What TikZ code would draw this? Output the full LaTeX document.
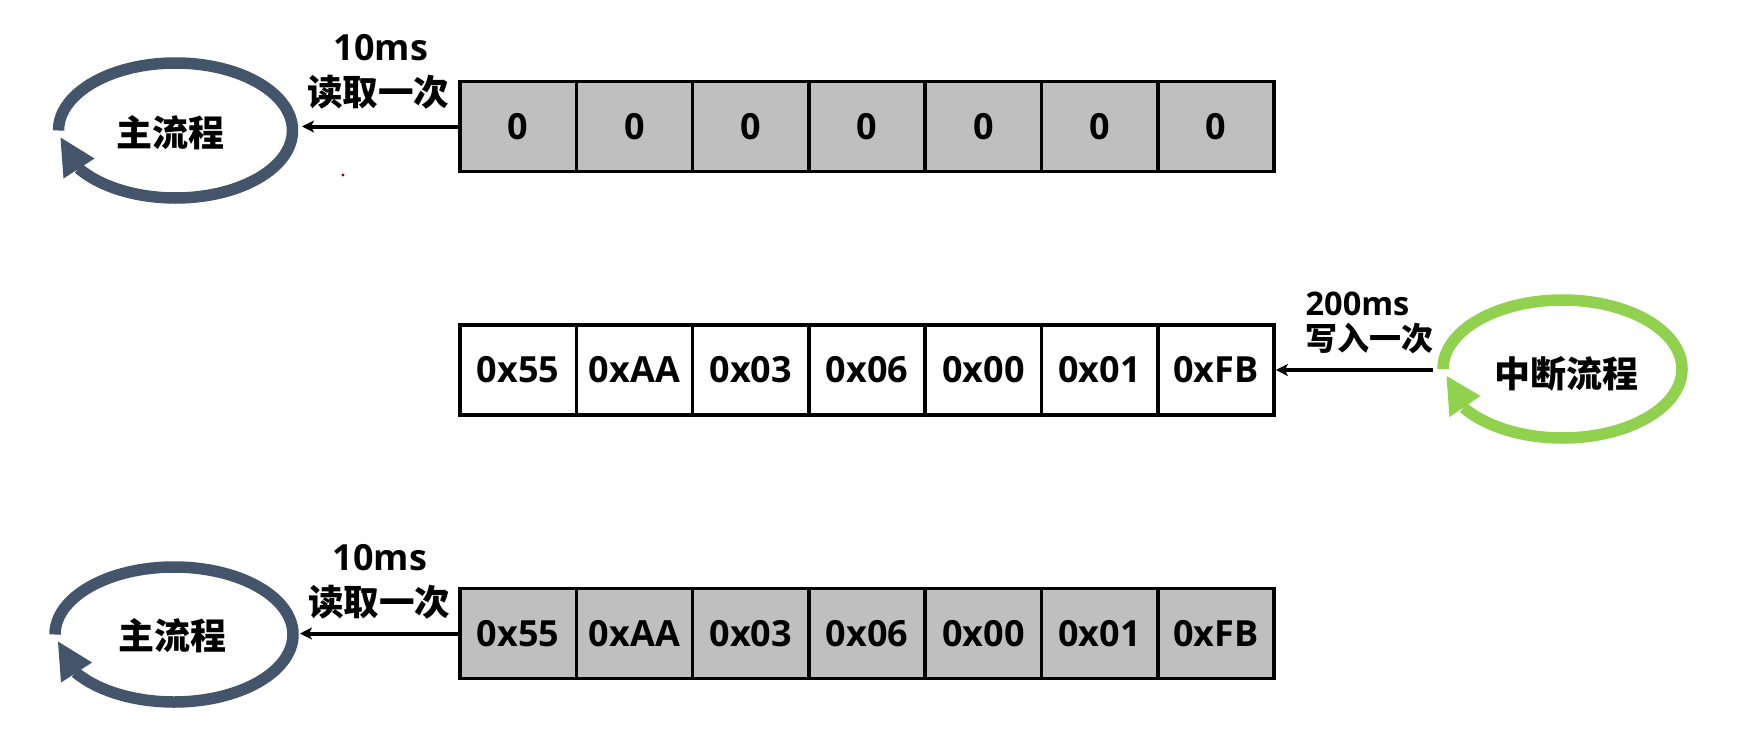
\documentclass[tikz,border=0pt]{standalone}
\usepackage{fontspec}
\newfontfamily\cjk{Noto Sans CJK SC}
\newfontfamily\lat{Open Sans}
\usetikzlibrary{arrows.meta}
\definecolor{loopdark}{HTML}{44546A}
\definecolor{loopgreen}{HTML}{92D050}
\definecolor{cellgray}{HTML}{BFBFBF}
\begin{document}
\begin{tikzpicture}[x=1pt,y=-1pt,
  cell/.style={draw=black, line width=3.5pt, minimum width=116.3pt, minimum height=90pt,
    inner sep=0pt, font=\lat\bfseries\fontsize{36}{36}\selectfont},
  graycell/.style={cell, fill=cellgray},
  whitecell/.style={cell, fill=white},
  conn/.style={draw=black, line width=4pt, -{Stealth[length=12pt,width=12pt,inset=3pt]}},
  looptext/.style={font=\cjk\bfseries\fontsize{36}{36}\selectfont, inner sep=0pt},
  cjklabel/.style={font=\cjk\bfseries\fontsize{35.5}{36}\selectfont, inner sep=0pt},
  latlabel/.style={font=\lat\bfseries\fontsize{36}{36}\selectfont, inner sep=0pt},
  cjklabelsm/.style={font=\cjk\bfseries\fontsize{32}{32}\selectfont, inner sep=0pt},
  latlabelsm/.style={font=\lat\bfseries\fontsize{32.5}{33}\selectfont, inner sep=0pt},
  loopline/.style={line width=11.5pt}
]
\useasboundingbox[fill=white] (0,0) rectangle (1743,744);

% ---------- row 1 ----------
\foreach \v [count=\i] in {0,0,0,0,0,0,0}
  \node[graycell] (a\i) at ({460+116.3*(\i-0.5)},126.5) {\v};
\coordinate (l1) at (175.5,130.5);
\node[looptext] (main1) at (170,133) {主流程};
\draw[loopdark, loopline] (l1) ++(-117,0) arc[start angle=180, end angle=506, x radius=117, y radius=67.5];
\fill[loopdark] (l1) +(-115,7) -- +(-112,48) -- +(-81,28) -- cycle;
\coordinate (l1e) at (302,126.5);
\draw[conn] (a1.west) -- (l1e);
\node[latlabel] (t1a) at (381,48) {10ms};
\node[cjklabel] (t1b) at (378,92) {读取一次};
\fill[red!60!black] (343,175) circle[radius=1.6];

% ---------- row 2 ----------
\foreach \v [count=\i] in {0x55,0xAA,0x03,0x06,0x00,0x01,0xFB}
  \node[whitecell] (b\i) at ({460+116.3*(\i-0.5)},370) {\v};
\coordinate (l2) at (1562.5,369);
\node[looptext] (irq) at (1566.5,373.5) {中断流程};
\draw[loopgreen, loopline] (l2) ++(-119.5,0) arc[start angle=180, end angle=506, x radius=119.5, y radius=69];
\fill[loopgreen] (l2) +(-116,7) -- +(-113,48) -- +(-82,27) -- cycle;
\coordinate (l2w) at (1433,370);
\draw[conn] (l2w) -- (b7.east);
\node[latlabelsm] (t2a) at (1357.5,303.5) {200ms};
\node[cjklabelsm] (t2b) at (1369.5,338) {写入一次};

% ---------- row 3 ----------
\foreach \v [count=\i] in {0x55,0xAA,0x03,0x06,0x00,0x01,0xFB}
  \node[graycell] (c\i) at ({460+116.3*(\i-0.5)},633.5) {\v};
\coordinate (l3) at (174,634.5);
\node[looptext] (main3) at (172,636) {主流程};
\draw[loopdark, loopline] (l3) ++(-119,0) arc[start angle=180, end angle=506, x radius=119, y radius=67.5];
\fill[loopdark] (l3) +(-116,7) -- +(-113,48) -- +(-82,28) -- cycle;
\coordinate (l3e) at (300,633.5);
\draw[conn] (c1.west) -- (l3e);
\node[latlabel] (t3a) at (380,558) {10ms};
\node[cjklabel] (t3b) at (379,602) {读取一次};
\end{tikzpicture}
\end{document}
